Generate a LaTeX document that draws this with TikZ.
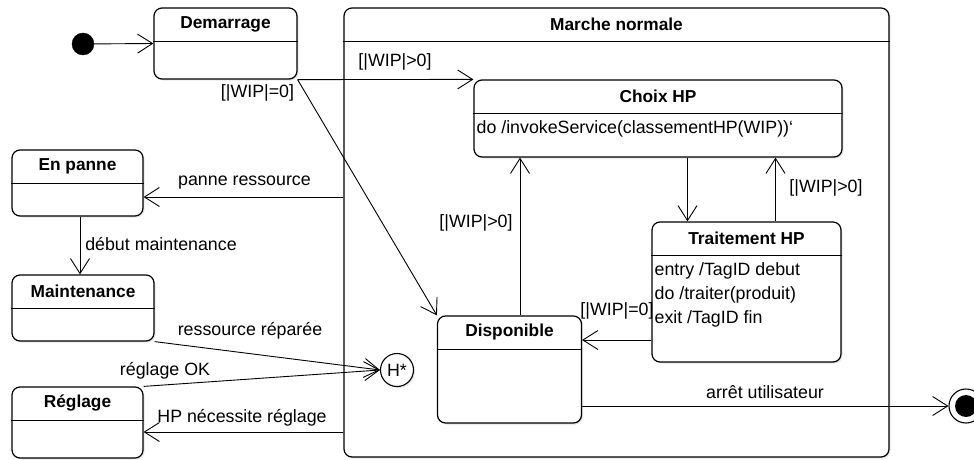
\documentclass[tikz,border=0pt]{standalone}
\usepackage{fontspec}
\setmainfont{Liberation Sans}
\usetikzlibrary{arrows.meta,shadows}

\begin{document}
\begin{tikzpicture}[x=1pt,y=-1pt,
  etat/.style={draw, line width=1.2pt, rounded corners=8pt, fill=white, inner sep=0pt,
    drop shadow={shadow xshift=1.5pt, shadow yshift=-1.5pt, opacity=0.2}},
  titre/.style={font=\fontsize{17.3}{20}\selectfont\bfseries, inner sep=0pt},
  txt/.style={font=\fontsize{17.8}{20}\selectfont, inner sep=0pt},
  trans/.style={line width=0.9pt, -{Straight Barb[length=15pt,width=19pt]}}
]
\useasboundingbox (0,0) rectangle (974,460);

% Etat composite
\node[etat, minimum width=545, minimum height=449] (marche) at (616.5,232.5) {};

% Etats
\node[etat, minimum width=143, minimum height=71] (demarrage) at (225.5,43.5) {};
\node[etat, minimum width=368, minimum height=77] (choix) at (658,118.5) {};
\node[etat, minimum width=189, minimum height=140] (traitement) at (746.5,292) {};
\node[etat, minimum width=144, minimum height=107] (disponible) at (509.5,369.5) {};
\node[etat, minimum width=131, minimum height=66] (enpanne) at (77.5,183) {};
\node[etat, minimum width=142, minimum height=66] (maintenance) at (83,308) {};
\node[etat, minimum width=131, minimum height=71] (reglage) at (77.5,422.5) {};

% Entetes
\foreach \n/\t in {marche/Marche normale, demarrage/Demarrage, choix/Choix HP,
    traitement/Traitement HP, disponible/Disponible, enpanne/En panne,
    maintenance/Maintenance, reglage/Réglage} {
  \draw[line width=1.1pt] ([yshift=-34]\n.north west) -- ([yshift=-34]\n.north east);
  \node[titre] (titre-\n) at ([yshift=-17]\n.north) {\t};
}

% Activites
\node[txt, anchor=west] (choix-do) at ([xshift=3,yshift=-49]choix.north west)
  {do /invokeService(classementHP(WIP))`};
\node[txt, anchor=north west, align=left, font=\fontsize{17.8}{24}\selectfont]
  (traitement-act) at ([xshift=3,yshift=-41]traitement.north west)
  {entry /TagID debut\\do /traiter(produit)\\exit /TagID fin};

% Pseudo-etats
\node[draw, fill, circle, minimum size=22, inner sep=0pt] (init) at (83,44) {};
\node[draw, circle, minimum size=34, line width=1.1pt, inner sep=0pt] (fin) at (966,406) {};
\node[fill, circle, minimum size=22, inner sep=0pt] (fin-in) at (fin) {};
\node[draw, circle, minimum size=33, line width=1.1pt, fill=white, inner sep=0pt, txt,
  drop shadow={shadow xshift=1.5pt, shadow yshift=-1.5pt, opacity=0.2}] (hist) at (397,370) {H*};

% Transitions
\draw[trans] (init) -- (demarrage.west);
\draw[trans] (demarrage.south east) -- (choix.north west);
\draw[trans] (demarrage.south east) -- (disponible.north west);
\draw[trans] ([xshift=-59]traitement.north |- choix.south) -- ([xshift=-59]traitement.north);
\draw[trans] ([xshift=29]traitement.north) -- ([xshift=29]traitement.north |- choix.south);
\draw[trans] ([xshift=10.5]disponible.north) -- ([xshift=10.5]disponible.north |- choix.south);
\draw[trans] ([yshift=-48]traitement.west) -- ([yshift=-48]traitement.west -| disponible.east);
\draw[trans] (disponible.east |- fin.west) -- (fin.west);
\draw[trans] ([yshift=-14]enpanne.east -| marche.west) -- ([yshift=-14]enpanne.east);
\draw[trans] ([xshift=2.5]enpanne.south) -- ([xshift=2.5]enpanne.south |- maintenance.north);
\draw[trans] (maintenance.south east) -- (hist.west);
\draw[trans] (reglage.north east) -- (hist.west);
\draw[trans] ([yshift=-9.5]reglage.east -| marche.west) -- ([yshift=-9.5]reglage.east);

% Gardes et evenements
\node[txt] (g-choix) at (395,61.5) {[|WIP|>0]};
\node[txt] (g-dispo) at (257.5,93) {[|WIP|=0]};
\node[txt] (g-retour) at (826,188) {[|WIP|>0]};
\node[txt] (g-suivant) at (476,223) {[|WIP|>0]};
\node[txt] (g-fini) at (617,311) {[|WIP|=0]};
\node[txt] (e-panne) at (244.5,183) {panne ressource};
\node[txt] (e-maint) at (161,244) {début maintenance};
\node[txt] (e-repare) at (250,331) {ressource réparée};
\node[txt] (e-reglok) at (165,371) {réglage OK};
\node[txt] (e-regl) at (242,418) {HP nécessite réglage};
\node[txt] (e-arret) at (765,392) {arrêt utilisateur};

\end{tikzpicture}
\end{document}
